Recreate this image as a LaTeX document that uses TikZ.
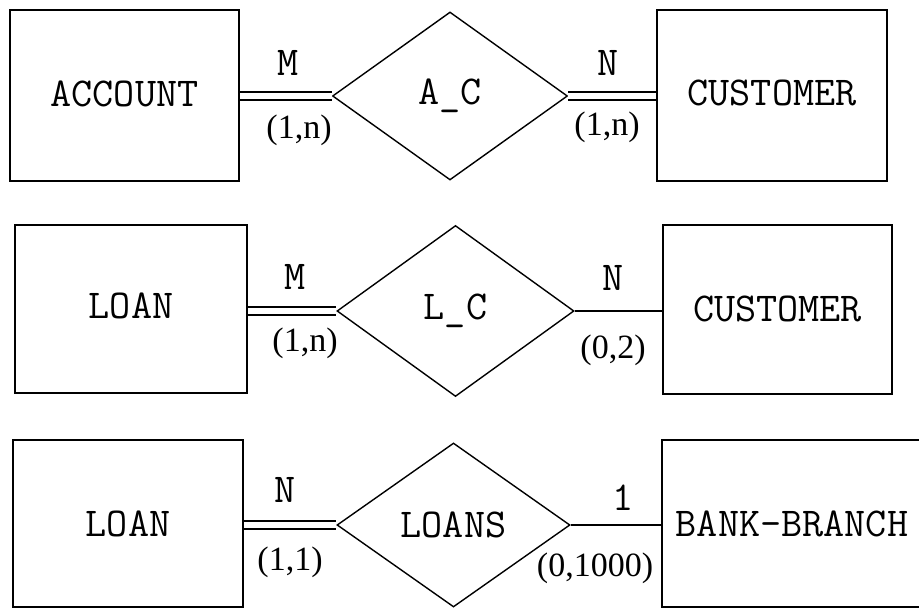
\documentclass[tikz,border=0pt]{standalone}
\usepackage{fontspec}
\setmainfont{Liberation Serif}
\usetikzlibrary{shapes.geometric}
\tikzset{
 entitybox/.style={draw, line width=2pt, inner sep=0pt, font=\ttfamily\fontsize{41}{44}\selectfont},
 relbox/.style={draw, diamond, line width=1.4pt, inner sep=0pt, font=\ttfamily\fontsize{41}{44}\selectfont},
 cardlabel/.style={inner sep=0pt, font=\ttfamily\fontsize{41}{44}\selectfont},
 rangelabel/.style={inner sep=0pt, font=\fontsize{34}{36}\selectfont},
 totalline/.style={line width=2pt, double, double distance=6pt},
 partialline/.style={line width=1.5pt},
}
\begin{document}
\begin{tikzpicture}[x=1pt,y=-1pt]
\useasboundingbox (0,0) rectangle (919,609);
\fill[white] (0,0) rectangle (919,609);
\clip (0,0) rectangle (919,609);
% row 1
\node[entitybox, minimum width=229pt, minimum height=171pt] (acc) at (124.5,95.5) {\raisebox{4pt}{ACCOUNT}};
\node[relbox, minimum width=235pt, minimum height=168pt] (ac) at (450,96) {A\_C};
\node[entitybox, minimum width=230pt, minimum height=171pt] (cus1) at (772,95.5) {\raisebox{5pt}{CUSTOMER}};
\draw[totalline] (ac.west -| acc.east) -- (ac.west);
\draw[totalline] (ac.east) -- (ac.east -| cus1.west);
\node[cardlabel] (m1) at (288,63) {M};
\node[rangelabel] (r1a) at (299,130) {(1,n)};
\node[cardlabel] (n1) at (608,63) {N};
\node[rangelabel] (r1b) at (607,127) {(1,n)};
% row 2
\node[entitybox, minimum width=232pt, minimum height=168pt] (loan1) at (131,309) {\raisebox{6pt}{LOAN}};
\node[relbox, minimum width=237pt, minimum height=171pt] (lc) at (455.5,311) {L\_C};
\node[entitybox, minimum width=229pt, minimum height=169pt] (cus2) at (777.5,309.5) {\raisebox{2pt}{CUSTOMER}};
\draw[totalline] (lc.west -| loan1.east) -- (lc.west);
\draw[partialline] (lc.east) -- (lc.east -| cus2.west);
\node[cardlabel] (m2) at (295,277) {M};
\node[rangelabel] (r2a) at (305,343) {(1,n)};
\node[cardlabel] (n2) at (613,278) {N};
\node[rangelabel] (r2b) at (613,350) {(0,2)};
% row 3
\node[entitybox, minimum width=230pt, minimum height=167pt] (loan2) at (128,523.5) {LOAN};
\node[relbox, minimum width=233pt, minimum height=164pt] (loans) at (453.5,525) {LOANS};
\node[entitybox, minimum width=260pt, minimum height=167pt] (bank) at (792,523.5) {BANK-BRANCH};
\draw[totalline] (loans.west -| loan2.east) -- (loans.west);
\draw[partialline] (loans.east) -- (loans.east -| bank.west);
\node[cardlabel] (n3) at (285,490) {N};
\node[rangelabel] (r3a) at (290,562) {(1,1)};
\node[cardlabel] (one) at (623,498) {1};
\node[rangelabel] (r3b) at (595,568) {(0,1000)};
\end{tikzpicture}
\end{document}
